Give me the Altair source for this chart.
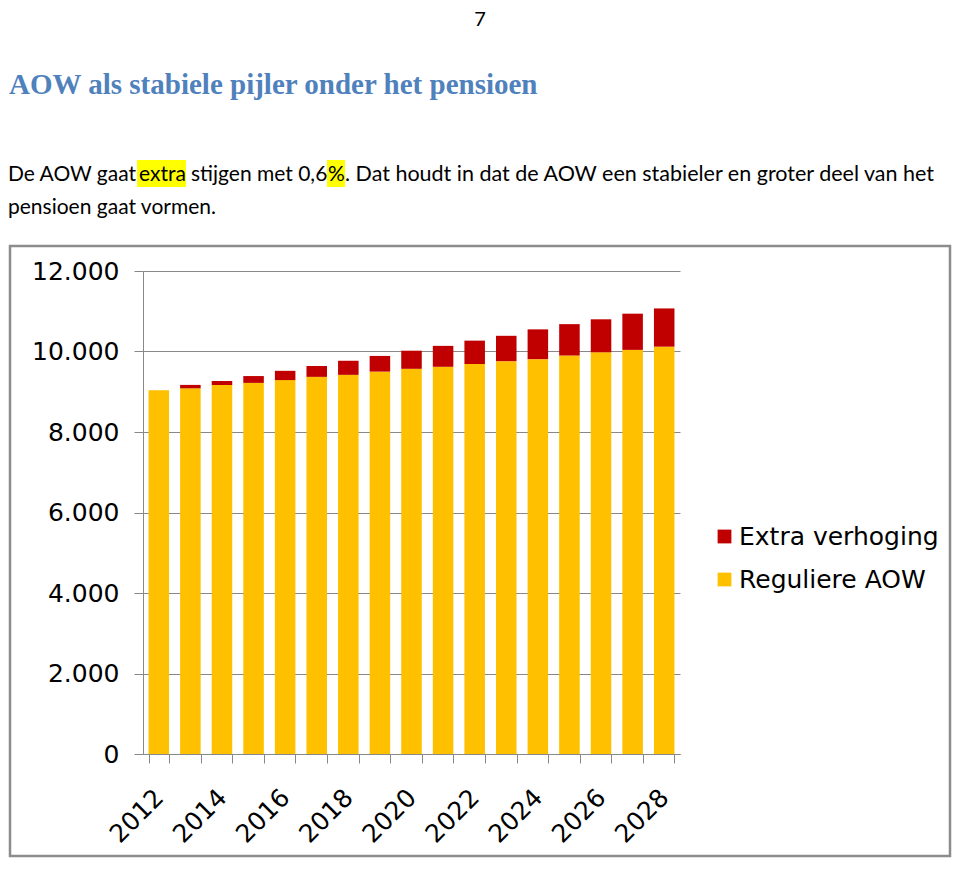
import altair as alt
import pandas as pd

# ---- data ----
years = ["2012", "2013", "2014", "2015", "2016", "2017", "2018", "2019", "2020",
         "2021", "2022", "2023", "2024", "2025", "2026", "2027", "2028"]
reguliere = [9040, 9085, 9170, 9220, 9290, 9370, 9420, 9500, 9570,
             9620, 9690, 9760, 9810, 9900, 9980, 10040, 10120]
extra = [0, 85, 100, 170, 230, 270, 350, 390, 450,
         520, 580, 630, 740, 780, 820, 900, 950]
series_names = ["Extra verhoging", "Reguliere AOW"]
series_colors = ["#C00000", "#FFC000"]
y_ticks = [0, 2000, 4000, 6000, 8000, 10000, 12000]

page_number = "7"
title_text = "AOW als stabiele pijler onder het pensioen"
body_segments = ["De AOW gaat", "extra", "stijgen met 0,6", "%",
                 ". Dat houdt in dat de AOW een stabieler en groter deel van het"]
body_line2 = "pensioen gaat vormen."

rows = []
for yr, r, e in zip(years, reguliere, extra):
    rows.append({"year": yr, "series": "Reguliere AOW", "value": r, "ord": 1})
    rows.append({"year": yr, "series": "Extra verhoging", "value": e, "ord": 2})
df = pd.DataFrame(rows)

W, H = 537, 483
PL, PT = 135, 263
TOTAL_W, TOTAL_H = 944, 850

# page (X, Y) -> plot coords: (X - 143, Y - 271)
def px(X):
    return X - 143

def py(Y):
    return Y - 271

one = pd.DataFrame({"k": [0]})

frame = alt.Chart(one).mark_rect(fillOpacity=0, stroke="#8c8c8c", strokeWidth=2.5).encode(
    x=alt.value(px(10)), x2=alt.value(px(950)), y=alt.value(py(246)), y2=alt.value(py(856))
)

hl1 = alt.Chart(one).mark_rect(color="#FFFF00").encode(
    x=alt.value(px(137)), x2=alt.value(px(186)), y=alt.value(py(160)), y2=alt.value(py(187))
)
hl2 = alt.Chart(one).mark_rect(color="#FFFF00").encode(
    x=alt.value(px(327)), x2=alt.value(px(345)), y=alt.value(py(160)), y2=alt.value(py(187))
)

def txt(s, X, Y, size, font="Lato", weight="normal", color="black", align="left",
        baseline="alphabetic"):
    return alt.Chart(pd.DataFrame({"t": [s]})).mark_text(
        font=font, fontSize=size, fontWeight=weight, color=color, align=align, baseline=baseline
    ).encode(text="t:N", x=alt.value(px(X)), y=alt.value(py(Y)))

texts = [
    txt(page_number, 480, 10, 20, align="center", baseline="top"),
    txt(title_text, 9, 94, 29, font="Liberation Serif", weight="bold", color="#4F81BD"),
    txt(body_segments[0], 8, 181, 21),
    txt(body_segments[1], 139, 181, 21),
    txt(body_segments[2], 191, 181, 21),
    txt(body_segments[3], 328, 181, 21),
    txt(body_segments[4], 345, 181, 21.5),
    txt(body_line2, 8, 214, 21),
]

bars = alt.Chart(df).mark_bar().encode(
    x=alt.X(
        "year:N", sort=years,
        scale=alt.Scale(paddingInner=0.35, paddingOuter=0.175),
        axis=alt.Axis(
            title=None, labelAngle=-45, labelAlign="right", labelBaseline="middle",
            labelFont="DejaVu Sans", labelFontSize=25, labelColor="black",
            labelExpr="toNumber(datum.value) % 2 == 0 ? datum.value : ''",
            labelOverlap=False, tickBand="extent", tickSize=9, tickColor="#888888",
            domainColor="#888888", labelPadding=30, grid=False,
        ),
    ),
    y=alt.Y(
        "value:Q", stack="zero",
        scale=alt.Scale(domain=[0, 12000], nice=False),
        axis=alt.Axis(
            title=None, values=y_ticks,
            labelExpr="replace(format(datum.value, ','), ',', '.')",
            labelFont="DejaVu Sans", labelFontSize=25, labelColor="black",
            tickSize=9, tickColor="#888888", domainColor="#888888",
            gridColor="#888888", gridWidth=1, labelPadding=15,
        ),
    ),
    color=alt.Color(
        "series:N",
        scale=alt.Scale(domain=series_names, range=series_colors),
        legend=alt.Legend(
            title=None, orient="none", legendX=569, legendY=253, padding=0,
            symbolType="square", symbolSize=190, symbolStrokeWidth=0,
            labelFont="DejaVu Sans", labelFontSize=25, labelColor="black",
            labelOffset=2, rowPadding=17, labelLimit=400,
        ),
    ),
    order=alt.Order("ord:Q"),
)

chart = alt.layer(frame, hl1, hl2, *texts, bars).properties(
    width=W, height=H,
    autosize=alt.AutoSizeParams(type="none"),
    padding={"left": PL, "top": PT, "right": TOTAL_W - PL - W, "bottom": TOTAL_H - PT - H},
    background="white",
).configure_view(stroke=None)

chart.save("out.html", embed_options={"renderer": "svg", "actions": False})
